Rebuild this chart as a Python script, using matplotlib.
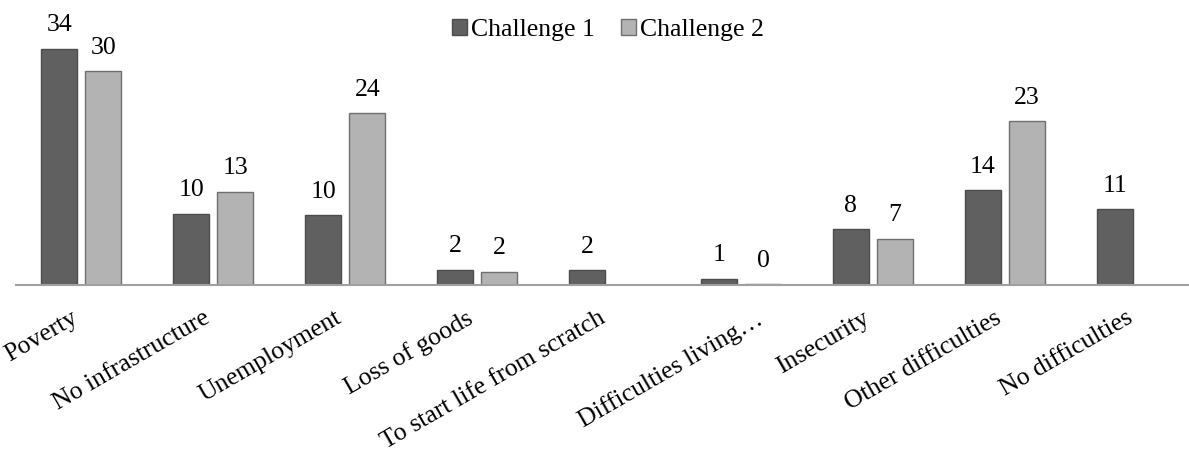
import numpy as np
import matplotlib
matplotlib.use("Agg")
import matplotlib.pyplot as plt
import matplotlib.transforms as mtransforms
from matplotlib.patches import Patch

plt.rcParams['font.family'] = ['Liberation Serif', 'DejaVu Serif']

categories = ["Poverty", "No infrastructure", "Unemployment", "Loss of goods",
              "To start life from scratch", "Difficulties living\u2026",
              "Insecurity", "Other difficulties", "No difficulties"]
# values; the printed labels are rounded
challenge1 = [33.6, 10.1, 9.9, 2.2, 2.1, 0.9, 7.9, 13.5, 10.8]
challenge2 = [30.4, 13.3, 24.4, 1.9, np.nan, 0.1, 6.6, 23.3, np.nan]
series_names = ["Challenge 1", "Challenge 2"]

c1_fill, c1_edge = '#606060', '#4c4c4c'
c2_fill, c2_edge = '#b3b3b3', '#707070'

fig = plt.figure(figsize=(11.89, 4.62), dpi=100)
ax = fig.add_axes([15.5 / 1189, 177 / 462, 9 * 131.9 / 1189, 38 * 7.03 / 462])

x = np.arange(len(categories))
w = 0.273
off = 0.167
b1 = ax.bar(x - off, challenge1, w, color=c1_fill, edgecolor=c1_edge, linewidth=1)
b2 = ax.bar(x + off, challenge2, w, color=c2_fill, edgecolor=c2_edge, linewidth=1)

def labels_for(vals):
    return ['' if np.isnan(v) else f"{v:.0f}" for v in vals]

ax.bar_label(b1, labels=labels_for(challenge1), padding=9, fontsize=18.5)
ax.bar_label(b2, labels=labels_for(challenge2), padding=9, fontsize=18.5)

ax.set_xlim(-0.5, len(categories) - 0.5)
ax.set_ylim(0, 38)
ax.set_xticks(x)
ax.set_xticklabels(categories, rotation=30, ha='right', fontsize=18.5)
ax.tick_params(axis='x', length=0, pad=16)
# the truncated label sits a bit further right (ellipsis hangs past the tick)
for lbl in ax.get_xticklabels():
    if lbl.get_text().endswith('\u2026'):
        lbl.set_transform(lbl.get_transform() +
                          mtransforms.ScaledTranslation(26 / 100, 0, fig.dpi_scale_trans))
ax.set_yticks([])
for side in ['top', 'right', 'left']:
    ax.spines[side].set_visible(False)
ax.spines['bottom'].set_color('#a0a0a0')
ax.spines['bottom'].set_linewidth(1.5)

handles = [Patch(facecolor=c1_fill, edgecolor=c1_edge),
           Patch(facecolor=c2_fill, edgecolor=c2_edge)]
fig.legend(handles, series_names, loc='center', bbox_to_anchor=(608 / 1189, 1 - 30 / 462),
           ncol=2, frameon=False, fontsize=18.5, handlelength=0.6, handleheight=0.6,
           handletextpad=0.15, columnspacing=1.0, borderpad=0)

fig.savefig('out.png', dpi=100)
